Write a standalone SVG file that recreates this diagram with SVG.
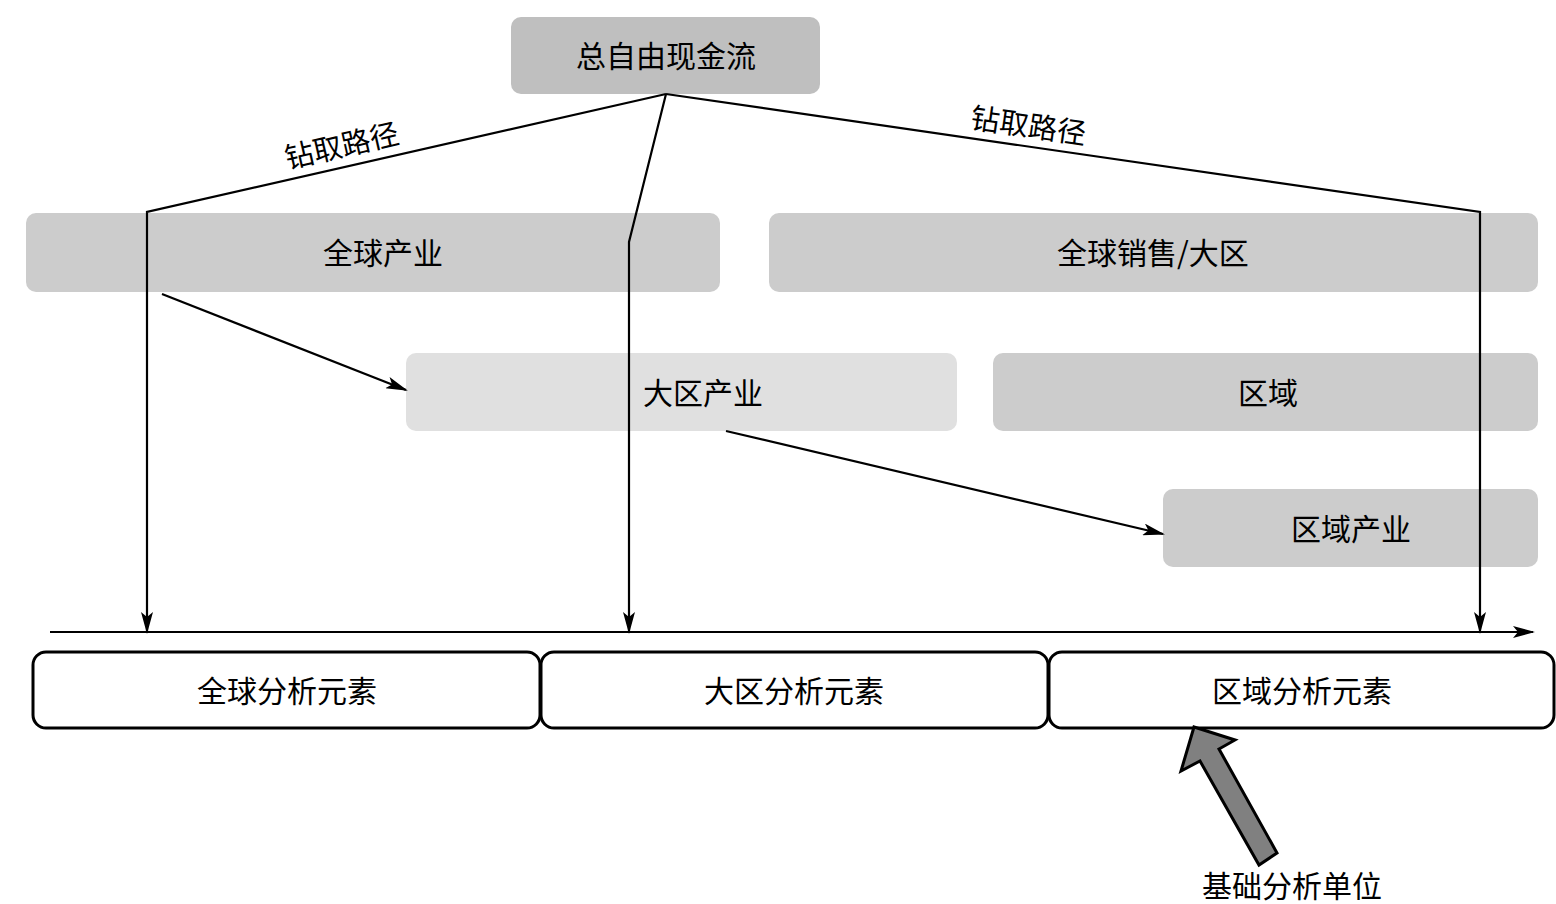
<svg xmlns="http://www.w3.org/2000/svg" width="1556" height="904" viewBox="0 0 1556 904">
<defs>
<marker id="ah" markerWidth="22" markerHeight="12" refX="20" refY="6" orient="auto" markerUnits="userSpaceOnUse">
<path d="M0,0 L22,6 L0,12 L5,6 Z" fill="#000"/>
</marker>
<style>
.t{font-family:"Noto Sans CJK SC","Noto Sans",sans-serif;font-size:30px;fill:#000;text-anchor:middle;dominant-baseline:central}
.lbl{font-family:"Noto Sans CJK SC","Noto Sans",sans-serif;font-size:29px;fill:#000;text-anchor:middle}
.g1{fill:#bfbfbf}
.g2{fill:#cccccc}
.g3{fill:#e0e0e0}
.w{fill:#fff;stroke:#000;stroke-width:3}
.c{fill:none;stroke:#000;stroke-width:2.2}
</style>
</defs>
<rect width="1556" height="904" fill="#fff"/>
<g id="n-total"><rect class="g1" x="511" y="17" width="309" height="77" rx="10"/><text class="t" x="666" y="54">总自由现金流</text></g>
<g id="n-global-ind"><rect class="g2" x="26" y="213" width="694" height="79" rx="10"/><text class="t" x="383" y="251">全球产业</text></g>
<g id="n-global-sales"><rect class="g2" x="769" y="213" width="769" height="79" rx="10"/><text class="t" x="1153" y="251">全球销售/大区</text></g>
<g id="n-region-ind"><rect class="g3" x="406" y="353" width="551" height="78" rx="10"/><text class="t" x="703" y="391">大区产业</text></g>
<g id="n-area"><rect class="g2" x="993" y="353" width="545" height="78" rx="10"/><text class="t" x="1268" y="391">区域</text></g>
<g id="n-area-ind"><rect class="g2" x="1163" y="489" width="375" height="78" rx="10"/><text class="t" x="1351" y="527">区域产业</text></g>
<g id="connectors">
<polyline class="c" points="666,94 147,212 147,632" marker-end="url(#ah)"/>
<polyline class="c" points="666,94 629,242 629,632" marker-end="url(#ah)"/>
<polyline class="c" points="666,94 1480,212 1480,632" marker-end="url(#ah)"/>
<line class="c" x1="162" y1="294" x2="406" y2="390" marker-end="url(#ah)"/>
<line class="c" x1="726" y1="431" x2="1163" y2="534" marker-end="url(#ah)"/>
<line class="c" x1="50" y1="632" x2="1533" y2="632" marker-end="url(#ah)"/>
<text class="lbl" transform="translate(344,156) rotate(-12.8)">钻取路径</text>
<text class="lbl" transform="translate(1027,136) rotate(8.3)">钻取路径</text>
</g>
<g id="n-global-el"><rect class="w" x="33" y="652" width="507" height="76" rx="13"/><text class="t" x="287" y="689">全球分析元素</text></g>
<g id="n-region-el"><rect class="w" x="541" y="652" width="507" height="76" rx="13"/><text class="t" x="794" y="689">大区分析元素</text></g>
<g id="n-area-el"><rect class="w" x="1049" y="652" width="505" height="76" rx="13"/><text class="t" x="1302" y="689">区域分析元素</text></g>
<g id="n-basic">
<polygon points="1194,727 1235,740 1219,749 1277,853 1259,865 1200,761 1181,771" fill="#808080" stroke="#000" stroke-width="3" stroke-linejoin="miter"/>
<text class="t" x="1292" y="884">基础分析单位</text>
</g>
</svg>
